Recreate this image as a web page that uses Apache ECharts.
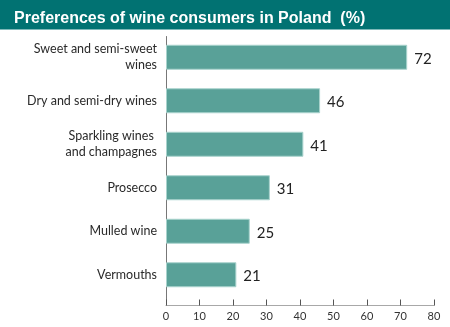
<!DOCTYPE html>
<html>
<head>
<meta charset="utf-8">
<script src="https://cdn.jsdelivr.net/npm/echarts@6/dist/echarts.min.js"></script>
<style>
html,body{margin:0;padding:0;background:#fff;}
#chart{width:450px;height:327px;}
</style>
</head>
<body>
<div id="chart"></div>
<script>
const titleText = 'Preferences of wine consumers in Poland  (%)';
const categories = ['Sweet and semi-sweet\nwines', 'Dry and semi-dry wines', 'Sparkling wines \nand champagnes', 'Prosecco', 'Mulled wine', 'Vermouths'];
const values = [72, 46, 41, 31, 25, 21];
const xTicks = [0, 10, 20, 30, 40, 50, 60, 70, 80];

const chart = echarts.init(document.getElementById('chart'), null, {renderer: 'canvas'});
const option = {
  backgroundColor: '#ffffff',
  animation: false,
  graphic: [
    {type: 'rect', left: 0, top: 0, shape: {width: 450, height: 29}, style: {fill: '#017272'}, z: 0},
    {type: 'rect', left: 0, top: 29, shape: {width: 450, height: 1}, style: {fill: '#7fb9b9'}, z: 0}
  ],
  title: {
    text: titleText,
    left: 9, top: 6,
    textStyle: {color: '#ffffff', fontFamily: 'Liberation Sans', fontWeight: 'bold', fontSize: 16}
  },
  grid: [
    {left: 166, right: 16, top: 35.5, height: 261, containLabel: false},
    {left: 166, right: 16, top: 36.5, bottom: 21.5, containLabel: false}
  ],
  xAxis: [
    {gridIndex: 0, type: 'value', min: 0, max: 80, interval: 10, show: false},
    {gridIndex: 1, type: 'value', min: 0, max: 80, interval: 10,
      axisLine: {show: true, lineStyle: {color: '#a8a8a8', width: 1}},
      axisTick: {show: true, inside: true, length: 6, lineStyle: {color: '#555'}},
      axisLabel: {color: '#333', fontFamily: 'Lato', fontSize: 11, margin: 5,
        formatter: function (v) { return xTicks.indexOf(v) >= 0 ? String(v) : ''; }},
      splitLine: {show: false}}
  ],
  yAxis: [
    {gridIndex: 0, type: 'category', data: categories, inverse: true,
      axisLine: {show: false}, axisTick: {show: false},
      axisLabel: {color: '#2a2a2a', fontFamily: 'Lato', fontSize: 12.5, margin: 9, lineHeight: 16, align: 'right', padding: [3, 0, 0, 0]}},
    {gridIndex: 1, type: 'value', min: 0, max: 1, show: true,
      axisLine: {show: true, lineStyle: {color: '#777', width: 1}},
      axisTick: {show: false}, axisLabel: {show: false}, splitLine: {show: false}}
  ],
  series: [{
    type: 'bar', xAxisIndex: 0, yAxisIndex: 0,
    data: values, barWidth: 25,
    itemStyle: {color: '#59a198', borderColor: '#a9d3cd', borderWidth: 1},
    label: {show: true, position: 'right', distance: 7, offset: [0, 1.5], color: '#222', fontFamily: 'Lato', fontSize: 15}
  }]
};
chart.setOption(option);
</script>
</body>
</html>
